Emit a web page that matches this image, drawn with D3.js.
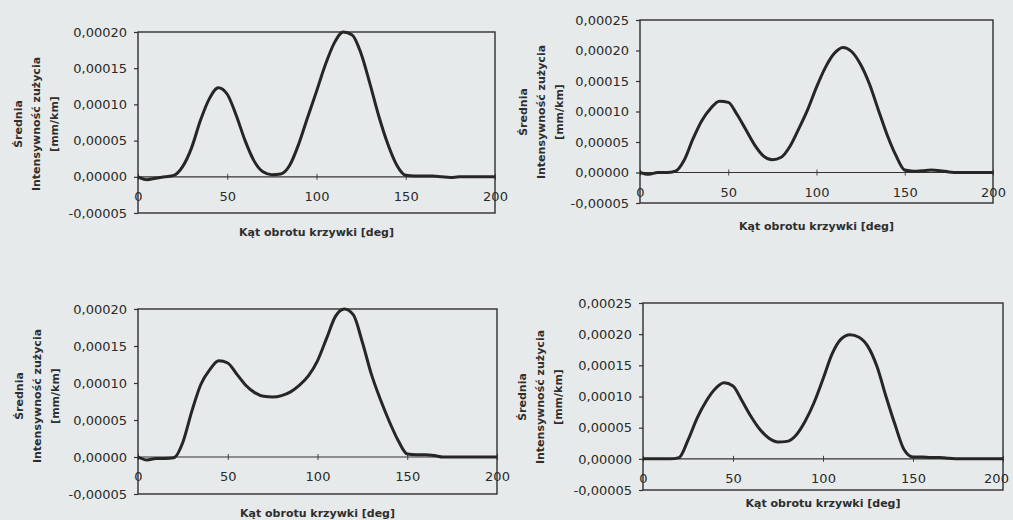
<!DOCTYPE html>
<html>
<head>
<meta charset="utf-8">
<script src="https://cdn.jsdelivr.net/npm/d3@7"></script>
<style>
  body { margin: 0; background: #e7eaeb; }
  svg { display: block; }
  .tick text { font-family: "DejaVu Sans", sans-serif; font-size: 13px; fill: #2a2a2a; }
  .ttl { font-family: "DejaVu Sans", sans-serif; font-size: 11px; font-weight: bold; fill: #2e2e2e; }
</style>
</head>
<body>
<div id="chart"></div>
<script>
// angle of the cam [deg]
var angles = [0,5,10,15,20,25,30,35,40,45,50,55,60,65,70,75,80,85,90,95,100,
              105,110,115,120,125,130,135,140,145,150,155,160,165,170,175,180,185,190,195,200];

// mean wear intensity [mm/km], one array per panel
var wearTopLeft = [0,-0.000004,-0.000002,0,0.000002,0.000014,0.000040,0.000078,0.000108,0.000123,
  0.000114,0.000085,0.000050,0.000022,0.000007,0.000003,0.000004,0.000016,0.000045,0.000082,
  0.000118,0.000155,0.000185,0.000200,0.000196,0.000170,0.000128,0.000083,0.000045,0.000016,
  0.000002,0.000001,0.000001,0.000001,0,-0.000001,0,0,0,0,0];
var wearTopRight = [0,-0.000003,0,0,0.000002,0.000020,0.000055,0.000085,0.000105,0.000117,
  0.000115,0.000095,0.000070,0.000045,0.000027,0.000021,0.000025,0.000043,0.000072,0.000103,
  0.000140,0.000172,0.000195,0.000205,0.000198,0.000177,0.000145,0.000103,0.000062,0.000028,
  0.000004,0.000002,0.000003,0.000004,0.000003,0.000001,0,0,0,0,0];
var wearBottomLeft = [0,-0.000004,-0.000002,-0.000002,-0.000001,0.000020,0.000062,0.000098,0.000118,0.000130,
  0.000127,0.000112,0.000097,0.000087,0.000082,0.000081,0.000083,0.000088,0.000097,0.000110,
  0.000130,0.000160,0.000190,0.000200,0.000192,0.000155,0.000112,0.000078,0.000048,0.000022,
  0.000004,0.000003,0.000003,0.000002,0,0,0,0,0,0,0];
var wearBottomRight = [0,0,0,0,0.000002,0.000030,0.000065,0.000092,0.000112,0.000122,
  0.000117,0.000093,0.000068,0.000047,0.000033,0.000027,0.000028,0.000038,0.000060,0.000090,
  0.000128,0.000168,0.000192,0.000199,0.000195,0.000180,0.000148,0.000100,0.000055,0.000015,
  0.000003,0.000003,0.000002,0.000002,0.000001,0,0,0,0,0,0];

var xTicks = [0,50,100,150,200];
var yTicksLow = [-0.00005,0,0.00005,0.0001,0.00015,0.0002];
var yTicksHigh = [-0.00005,0,0.00005,0.0001,0.00015,0.0002,0.00025];

var xTitle = "Kąt obrotu krzywki [deg]";
var yTitle = ["Średnia", "Intensywność zużycia", "[mm/km]"];

// where each panel sits on the page
var panels = [
  {data: wearTopLeft,     ticks: yTicksLow,  x0: 138, x1: 495,  yTop: 32,  yBot: 213, labX: 18,  labY: 124, titleY: 232},
  {data: wearTopRight,    ticks: yTicksHigh, x0: 640, x1: 993,  yTop: 20,  yBot: 203, labX: 523, labY: 112, titleY: 226},
  {data: wearBottomLeft,  ticks: yTicksLow,  x0: 138, x1: 497,  yTop: 309, yBot: 494, labX: 19,  labY: 396, titleY: 513},
  {data: wearBottomRight, ticks: yTicksHigh, x0: 643, x1: 1003, yTop: 303, yBot: 490, labX: 522, labY: 397, titleY: 503}
];

var W = 1013, H = 520;
var svg = d3.select("#chart").append("svg")
    .attr("width", W)
    .attr("height", H);

svg.append("rect").attr("width", W).attr("height", H).attr("fill", "#e7eaeb");

function fmt(v) {
  if (Math.abs(v) < 1e-12) v = 0;
  return (v < 0 ? "-" : "") + Math.abs(v).toFixed(5).replace(".", ",");
}

panels.forEach(function(p) {
  var g = svg.append("g");
  var x = d3.scaleLinear().domain([0, 200]).range([p.x0, p.x1]);
  var y = d3.scaleLinear().domain([p.ticks[0], p.ticks[p.ticks.length - 1]]).range([p.yBot, p.yTop]);
  var y0 = y(0);

  // y axis
  var ya = g.append("g")
      .attr("transform", "translate(" + p.x0 + ",0)")
      .call(d3.axisLeft(y).tickValues(p.ticks).tickFormat(fmt).tickSize(4).tickPadding(7));
  ya.select(".domain").remove();
  ya.selectAll(".tick line").attr("stroke", "#333").attr("stroke-width", 1.2);

  // x axis sitting on the zero line
  var xa = g.append("g")
      .attr("transform", "translate(0," + y0 + ")")
      .call(d3.axisBottom(x).tickValues(xTicks).tickSize(3).tickPadding(12));
  xa.select(".domain").remove();
  xa.selectAll(".tick line").attr("y1", -3).attr("stroke", "#444").attr("stroke-width", 1);
  // keep the last label inside the page
  xa.selectAll(".tick text").attr("dx", function(d) {
    return (d === 200 && p.x1 + 14 > W) ? -7 : 0;
  });

  g.append("line")
      .attr("x1", p.x0).attr("x2", p.x1)
      .attr("y1", y0).attr("y2", y0)
      .attr("stroke", "#333").attr("stroke-width", 1.2);

  // plot frame
  g.append("rect")
      .attr("x", p.x0).attr("y", p.yTop)
      .attr("width", p.x1 - p.x0).attr("height", p.yBot - p.yTop)
      .attr("fill", "none").attr("stroke", "#2e2e2e").attr("stroke-width", 1.4);

  var line = d3.line()
      .x(function(d, i) { return x(angles[i]); })
      .y(function(d) { return y(d); })
      .curve(d3.curveMonotoneX);

  g.append("path")
      .datum(p.data)
      .attr("fill", "none")
      .attr("stroke", "#262626")
      .attr("stroke-width", 3)
      .attr("stroke-linejoin", "round")
      .attr("d", line);

  // titles
  g.append("text")
      .attr("class", "ttl")
      .attr("x", (p.x0 + p.x1) / 2)
      .attr("y", p.titleY)
      .attr("text-anchor", "middle")
      .attr("dominant-baseline", "central")
      .text(xTitle);

  yTitle.forEach(function(t, i) {
    g.append("text")
        .attr("class", "ttl")
        .attr("transform", "translate(" + (p.labX + i * 18) + "," + p.labY + ") rotate(-90)")
        .attr("text-anchor", "middle")
        .attr("dominant-baseline", "central")
        .text(t);
  });
});
</script>
</body>
</html>
